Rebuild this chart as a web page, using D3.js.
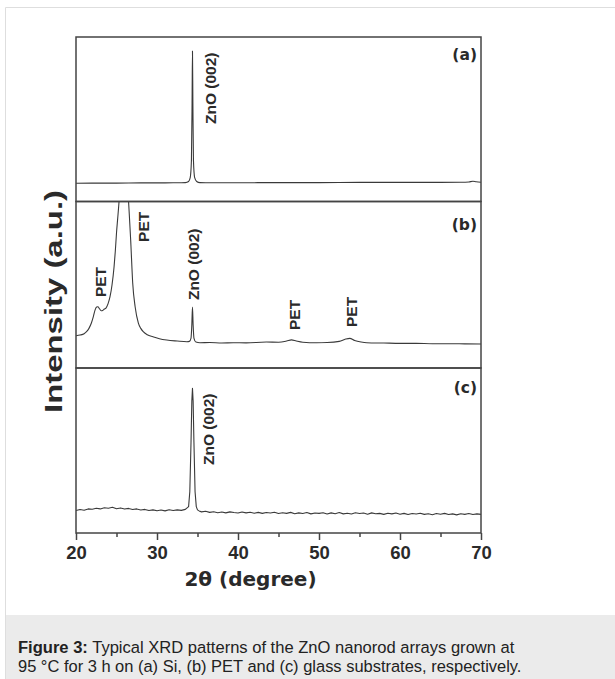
<!DOCTYPE html>
<html><head><meta charset="utf-8">
<script src="https://cdn.jsdelivr.net/npm/d3@7/dist/d3.min.js"></script>
<style>html,body{margin:0;padding:0;background:#fff;}svg{display:block;}</style>
</head><body>
<svg id="chart" width="615" height="679"></svg>
<script>
// ---------------- DATA ----------------
const xTicks = [20, 30, 40, 50, 60, 70];
const xMinorTicks = [25, 35, 45, 55, 65];
const panelNames = ["(a)", "(b)", "(c)"];

// [2θ, intensity (a.u., 0-100 of panel height)]
const patternA = [
  [20,11.1],[22,11.2],[25,11.2],[28,11.3],[30,11.3],[32,11.4],[33,11.4],[33.5,11.5],
  [33.9,12.2],[34.1,14.5],[34.25,25],[34.33,60],[34.38,91.5],[34.43,60],[34.5,25],
  [34.65,14.5],[34.9,12.2],[35.3,11.5],[36,11.4],[40,11.4],[45,11.5],[50,11.5],
  [55,11.6],[60,11.6],[65,11.6],[67.5,11.7],[68.5,11.9],[69,12.3],[69.4,12.0],[70,11.7]
];

const patternB = [
  [20,19.4],[20.5,19.8],[21,20.6],[21.3,21.8],[21.6,23.8],[21.9,27.0],[22.15,31.0],
  [22.35,34.8],[22.55,36.6],[22.7,36.8],[22.9,35.6],[23.1,34.4],[23.3,34.6],[23.5,35.4],
  [23.7,36.0],[23.95,38.5],[24.2,42.8],[24.45,50],[24.7,60.8],[24.85,70],[25.0,81.1],
  [25.15,90],[25.3,99.1],[25.6,125],[25.9,140],[26.2,125],[26.5,99.1],[26.75,76.9],
  [27.0,51.1],[27.3,36.8],[27.7,27.0],[28.0,23.8],[28.3,21.8],[28.8,20.0],[29.5,18.8],
  [30.3,17.6],[31.2,16.8],[32.5,16.2],[33.7,15.8],[34.0,16.0],[34.2,18],[34.3,26],
  [34.38,36.6],[34.46,26],[34.56,18],[34.8,15.6],[35.3,15.2],[36.5,15.3],[38,15.0],
  [39.4,15.2],[41,15.1],[43.5,15.6],[45,15.5],[46.0,16.2],[46.6,16.9],[47.2,16.2],
  [48.0,15.5],[49.7,15.2],[51,15.3],[52.5,16.0],[53.3,17.4],[53.8,17.8],[54.4,16.5],
  [55.2,15.6],[55.9,15.2],[58,15.0],[60,14.8],[62,14.8],[64,14.6],[66,14.6],[68,14.5],[70,14.4]
];

const patternC = [
  [20,13.6],[20.5,14.2],[21,13.8],[21.5,14.6],[22,14.4],[22.5,15.0],[23,14.6],[23.5,15.3],
  [24,15.0],[24.5,15.6],[25,14.7],[25.5,15.2],[26,14.5],[26.5,14.9],[27,14.2],[27.5,14.6],
  [28,13.9],[28.5,14.3],[29,13.6],[29.5,14.0],[30,13.5],[30.5,13.9],[31,13.4],[31.5,14.1],
  [32,13.6],[32.5,14.0],[33,13.7],[33.5,14.3],[33.9,16],[34.05,25],[34.2,55],[34.3,80],
  [34.38,87.7],[34.46,80],[34.56,55],[34.7,25],[34.85,16],[35.0,14],[35.2,13.4],[35.5,12.8],
  [36,13.2],[36.5,12.5],[37,12.9],[37.5,12.3],[38,12.7],[38.5,12.2],[39,12.8],[39.5,12.4],
  [40,12.1],[40.5,12.7],[41,12.2],[41.5,12.6],[42,12.0],[42.5,12.5],[43,11.9],[43.5,12.4],
  [44,12.1],[44.5,12.6],[45,11.8],[45.5,12.3],[46,11.9],[46.5,12.5],[47,11.7],[47.5,12.2],
  [48,11.8],[48.5,12.4],[49,11.6],[49.5,12.1],[50,11.9],[50.5,12.3],[51,11.5],[51.5,12.2],
  [52,11.7],[52.5,12.4],[53,11.6],[53.5,12.0],[54,11.5],[54.5,12.3],[55,11.8],[55.5,12.1],
  [56,11.4],[56.5,12.2],[57,11.7],[57.5,11.9],[58,11.3],[58.5,12.0],[59,11.6],[59.5,12.1],
  [60,11.4],[60.5,11.9],[61,11.2],[61.5,11.8],[62,11.5],[62.5,12.0],[63,11.3],[63.5,11.7],
  [64,11.1],[64.5,11.8],[65,11.4],[65.5,11.9],[66,11.2],[66.5,11.6],[67,11.0],[67.5,11.7],
  [68,11.3],[68.5,11.8],[69,11.2],[69.5,11.6],[70,11.3]
];

// peak annotations: text, 2θ of text baseline, intensity at text start
const labelTextA = ["ZnO (002)"];
const labelThetaA = [37.25];
const labelIntA = [47.1];

const labelTextB = ["PET", "PET", "ZnO (002)", "PET", "PET"];
const labelThetaB = [23.70, 29.01, 35.19, 47.65, 54.69];
const labelIntB = [42.6, 75.7, 40.8, 22.8, 24.6];

const labelTextC = ["ZnO (002)"];
const labelThetaC = [37.04];
const labelIntC = [41.2];

const xTitle = "2θ (degree)";
const yTitle = "Intensity (a.u.)";
const captionBold = "Figure 3:";
const captionLine1 = " Typical XRD patterns of the ZnO nanorod arrays grown at";
const captionLine2 = "95 °C for 3 h on (a) Si, (b) PET and (c) glass substrates, respectively.";

// ---------------- LAYOUT ----------------
const svg = d3.select("#chart");
const left = 76, right = 481;
const panelTops = [37, 201.5, 368];
const panelBottoms = [201.5, 368, 533];
const panelLabelOffsets = [22.5, 28, 25];
const ink = "#2a2a2a";

// page frame + caption box
svg.append("line").attr("x1", 5.5).attr("x2", 615).attr("y1", 7.5).attr("y2", 7.5)
  .attr("stroke", "#dedede").attr("stroke-width", 1);
svg.append("line").attr("x1", 5.5).attr("x2", 5.5).attr("y1", 7.5).attr("y2", 679)
  .attr("stroke", "#dedede").attr("stroke-width", 1);
svg.append("rect").attr("x", 6).attr("y", 615).attr("width", 609).attr("height", 64)
  .attr("fill", "#ebebeb");

const x = d3.scaleLinear().domain([20, 70]).range([left, right]);

const patterns = [patternA, patternB, patternC];
const labelSets = [
  [labelTextA, labelThetaA, labelIntA],
  [labelTextB, labelThetaB, labelIntB],
  [labelTextC, labelThetaC, labelIntC]
];

const defs = svg.append("defs");

patterns.forEach((pat, i) => {
  const top = panelTops[i], bot = panelBottoms[i];
  const y = d3.scaleLinear().domain([0, 100]).range([bot, top]);
  const clipId = "clip" + i;
  defs.append("clipPath").attr("id", clipId)
    .append("rect").attr("x", left).attr("y", top).attr("width", right - left).attr("height", bot - top);

  const line = d3.line().x(d => x(d[0])).y(d => y(d[1]))
    .curve(i === 2 ? d3.curveLinear : d3.curveMonotoneX);

  svg.append("path").datum(pat)
    .attr("clip-path", `url(#${clipId})`)
    .attr("d", line)
    .attr("fill", "none")
    .attr("stroke", "#3a3a3a")
    .attr("stroke-width", 1.1)
    .attr("stroke-linejoin", "round");

  // annotations
  const [txt, th, iv] = labelSets[i];
  txt.forEach((t, k) => {
    svg.append("text")
      .attr("transform", `translate(${x(th[k])},${y(iv[k])}) rotate(-90)`)
      .attr("text-anchor", "start")
      .attr("font-family", "'Liberation Sans', Arial, sans-serif")
      .attr("font-weight", "bold")
      .attr("font-size", 15.5)
      .attr("fill", ink)
      .text(t);
  });

  // panel label
  svg.append("text")
    .attr("x", right - 4).attr("y", top + panelLabelOffsets[i])
    .attr("text-anchor", "end")
    .attr("font-family", "'DejaVu Sans', sans-serif")
    .attr("font-weight", "bold")
    .attr("font-size", 15.5)
    .attr("fill", ink)
    .text(panelNames[i]);

  // frame
  svg.append("rect")
    .attr("x", left).attr("y", top).attr("width", right - left).attr("height", bot - top)
    .attr("fill", "none").attr("stroke", "#444").attr("stroke-width", 1.5);
});

// x axis (bottom of panel c)
const axisY = panelBottoms[2];
const gMajor = svg.append("g").attr("transform", `translate(0,${axisY})`)
  .call(d3.axisBottom(x).tickValues(xTicks).tickSize(7).tickFormat(d3.format("d")));
gMajor.select(".domain").remove();
gMajor.selectAll(".tick line").attr("stroke", "#444").attr("stroke-width", 1.5);
gMajor.selectAll(".tick text")
  .attr("y", 26).attr("dy", 0)
  .attr("font-family", "'Liberation Sans', Arial, sans-serif")
  .attr("font-weight", "bold")
  .attr("font-size", 18.5)
  .attr("fill", ink);

const gMinor = svg.append("g").attr("transform", `translate(0,${axisY})`)
  .call(d3.axisBottom(x).tickValues(xMinorTicks).tickSize(4).tickFormat(""));
gMinor.select(".domain").remove();
gMinor.selectAll(".tick line").attr("stroke", "#444").attr("stroke-width", 1.5);

// axis titles
svg.append("text")
  .attr("x", 250.5).attr("y", 586)
  .attr("text-anchor", "middle")
  .attr("font-family", "'DejaVu Sans', sans-serif")
  .attr("font-weight", "bold")
  .attr("font-size", 20)
  .attr("fill", ink)
  .text(xTitle);

svg.append("text")
  .attr("transform", "translate(62,301.5) rotate(-90)")
  .attr("text-anchor", "middle")
  .attr("font-family", "'Liberation Sans', Arial, sans-serif")
  .attr("font-weight", "bold")
  .attr("font-size", 24)
  .attr("textLength", 223)
  .attr("lengthAdjust", "spacingAndGlyphs")
  .attr("fill", ink)
  .text(yTitle);

// caption
function captionText(baseline, targetW, parts) {
  const t = svg.append("text")
    .attr("x", 0).attr("y", 0)
    .attr("font-family", "'Liberation Sans', Arial, sans-serif")
    .attr("font-size", 17)
    .attr("fill", "#222");
  parts.forEach(p => {
    t.append("tspan").attr("font-weight", p.bold ? "bold" : "normal").text(p.text);
  });
  const w = t.node().getComputedTextLength();
  const k = targetW / w;
  t.attr("transform", `translate(18,${baseline}) scale(${k},1)`);
}
captionText(653, 497, [{text: captionBold, bold: true}, {text: captionLine1, bold: false}]);
captionText(672, 504, [{text: captionLine2, bold: false}]);
</script>
</body></html>
